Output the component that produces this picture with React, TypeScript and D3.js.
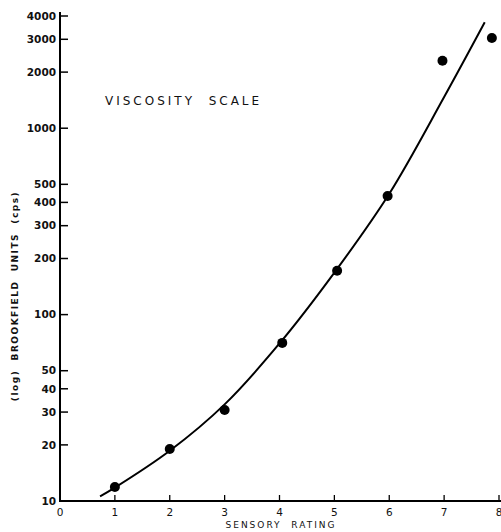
import React from "react";
import * as d3 from "d3";

const WIDTH = 501;
const HEIGHT = 532;

// Observed viscosity (Brookfield cps) by sensory rating
const ratings = [1, 2, 3, 4.05, 5.05, 5.97, 6.97, 7.87];
const viscosity = [11.9, 19, 30.8, 70.5, 172, 433, 2300, 3050];

// Fitted curve, read along its path
const curveRatings = [0.73, 1, 2, 3, 4, 5, 6, 7, 7.74];
const curveViscosity = [10.6, 11.8, 18.6, 33, 70, 168, 445, 1470, 3700];

const yTickValues = [10, 20, 30, 40, 50, 100, 200, 300, 400, 500, 1000, 2000, 3000, 4000];
const xTickValues = [0, 1, 2, 3, 4, 5, 6, 7, 8];

const FONT = "'DejaVu Sans', 'Liberation Sans', sans-serif";

export default function App() {
  const x = d3.scaleLinear().domain([0, 8]).range([60, 499]);
  const y = d3.scaleLog().domain([10, 4000]).range([501, 16]);

  const line = d3
    .line<number>()
    .x((_, i) => x(curveRatings[i]))
    .y((d) => y(d))
    .curve(d3.curveCatmullRom.alpha(0.5));

  return (
    <svg
      width={WIDTH}
      height={HEIGHT}
      style={{ position: "absolute", left: 0, top: 0, background: "#fff" }}
      fontFamily={FONT}
    >
      {/* axes */}
      <line x1={x(0)} x2={x(0)} y1={12} y2={y(10) + 1} stroke="#000" strokeWidth={2} />
      <line x1={x(0) - 1} x2={WIDTH} y1={y(10)} y2={y(10)} stroke="#000" strokeWidth={2} />

      {/* y ticks */}
      {yTickValues.map((v) => (
        <g key={"y" + v}>
          {v !== 10 && (
            <line x1={x(0)} x2={x(0) + 8} y1={y(v)} y2={y(v)} stroke="#000" strokeWidth={1.5} />
          )}
          <text
            x={x(0) - 4}
            y={y(v)}
            dy="0.36em"
            textAnchor="end"
            fontSize={10.5}
            fontWeight="bold"
            fill="#111"
          >
            {v}
          </text>
        </g>
      ))}

      {/* x ticks */}
      {xTickValues.map((v) => (
        <g key={"x" + v}>
          {v !== 0 && (
            <line x1={x(v)} x2={x(v)} y1={y(10)} y2={y(10) - 6} stroke="#000" strokeWidth={1.3} />
          )}
          <text x={x(v)} y={y(10) + 15} textAnchor="middle" fontSize={10.5} fill="#111">
            {v}
          </text>
        </g>
      ))}

      {/* fitted curve */}
      <path d={line(curveViscosity) ?? ""} fill="none" stroke="#000" strokeWidth={2} />

      {/* observations */}
      {viscosity.map((v, i) => (
        <circle key={"p" + i} cx={x(ratings[i])} cy={y(v)} r={5} fill="#000" />
      ))}

      {/* title */}
      <text
        x={105}
        y={105}
        fontSize={12}
        letterSpacing={3}
        fill="#111"
        style={{ whiteSpace: "pre" }}
      >
        VISCOSITY  SCALE
      </text>

      {/* axis labels */}
      <text
        x={281}
        y={528}
        textAnchor="middle"
        fontSize={9}
        letterSpacing={2}
        fill="#111"
        style={{ whiteSpace: "pre" }}
      >
        SENSORY  RATING
      </text>
      <text
        transform={`translate(18, 296) rotate(-90)`}
        textAnchor="middle"
        fontSize={9}
        fontWeight="bold"
        letterSpacing={1.5}
        fill="#111"
        style={{ whiteSpace: "pre" }}
      >
        (log)  BROOKFIELD  UNITS  (cps)
      </text>
    </svg>
  );
}
